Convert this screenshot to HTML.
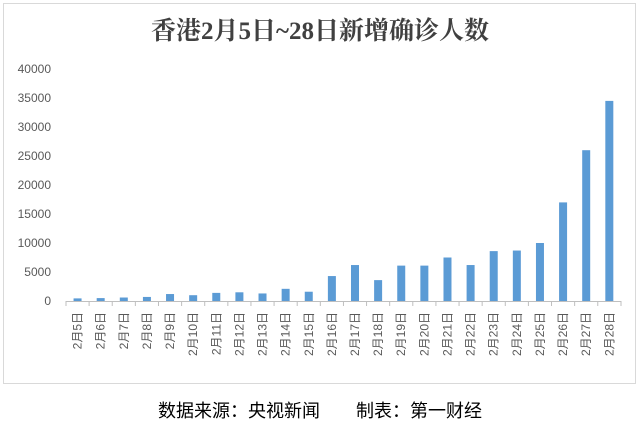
<html><head><style>body{margin:0;background:#fff}</style></head><body>
<svg width="640" height="427" xmlns="http://www.w3.org/2000/svg" font-family="Liberation Sans, Noto Sans CJK SC, sans-serif">
<rect x="0" y="0" width="640" height="427" fill="#fff"/>
<rect x="3.5" y="3.5" width="632" height="380" fill="#fff" stroke="#d9d9d9"/>
<text x="320" y="39" text-anchor="middle" font-size="25" font-weight="bold" fill="#404040" font-family="Liberation Serif, Noto Serif CJK SC, serif">香港2月5日~28日新增确诊人数</text>
<g font-size="12" fill="#595959" text-anchor="end">
<text x="51" y="305">0</text><text x="51" y="276">5000</text><text x="51" y="247">10000</text><text x="51" y="218">15000</text><text x="51" y="189">20000</text><text x="51" y="160">25000</text><text x="51" y="131">30000</text><text x="51" y="102">35000</text><text x="51" y="73">40000</text>
</g>
<line x1="66" y1="301.5" x2="621" y2="301.5" stroke="#bfbfbf"/>
<g fill="#5b9bd5">
<rect x="73.56" y="298.39" width="8" height="2.61"/>
<rect x="96.68" y="298.1" width="8" height="2.9"/>
<rect x="119.8" y="297.52" width="8" height="3.48"/>
<rect x="142.92" y="296.94" width="8" height="4.06"/>
<rect x="166.04" y="294.04" width="8" height="6.96"/>
<rect x="189.16" y="295.2" width="8" height="5.8"/>
<rect x="212.28" y="292.88" width="8" height="8.12"/>
<rect x="235.4" y="292.3" width="8" height="8.7"/>
<rect x="258.52" y="293.46" width="8" height="7.54"/>
<rect x="281.64" y="288.82" width="8" height="12.18"/>
<rect x="304.76" y="291.72" width="8" height="9.28"/>
<rect x="327.88" y="276.06" width="8" height="24.94"/>
<rect x="351" y="265.04" width="8" height="35.96"/>
<rect x="374.12" y="280.12" width="8" height="20.88"/>
<rect x="397.24" y="265.62" width="8" height="35.38"/>
<rect x="420.36" y="265.62" width="8" height="35.38"/>
<rect x="443.48" y="257.5" width="8" height="43.5"/>
<rect x="466.6" y="265.04" width="8" height="35.96"/>
<rect x="489.72" y="251.12" width="8" height="49.88"/>
<rect x="512.84" y="250.54" width="8" height="50.46"/>
<rect x="535.96" y="243" width="8" height="58"/>
<rect x="559.08" y="202.4" width="8" height="98.6"/>
<rect x="582.2" y="150.2" width="8" height="150.8"/>
<rect x="605.32" y="100.9" width="8" height="200.1"/>
</g>
<g stroke="#bfbfbf">
<line x1="66" y1="301" x2="66" y2="306"/><line x1="89.12" y1="301" x2="89.12" y2="306"/><line x1="112.24" y1="301" x2="112.24" y2="306"/><line x1="135.36" y1="301" x2="135.36" y2="306"/><line x1="158.48" y1="301" x2="158.48" y2="306"/><line x1="181.6" y1="301" x2="181.6" y2="306"/><line x1="204.72" y1="301" x2="204.72" y2="306"/><line x1="227.84" y1="301" x2="227.84" y2="306"/><line x1="250.96" y1="301" x2="250.96" y2="306"/><line x1="274.08" y1="301" x2="274.08" y2="306"/><line x1="297.2" y1="301" x2="297.2" y2="306"/><line x1="320.32" y1="301" x2="320.32" y2="306"/><line x1="343.44" y1="301" x2="343.44" y2="306"/><line x1="366.56" y1="301" x2="366.56" y2="306"/><line x1="389.68" y1="301" x2="389.68" y2="306"/><line x1="412.8" y1="301" x2="412.8" y2="306"/><line x1="435.92" y1="301" x2="435.92" y2="306"/><line x1="459.04" y1="301" x2="459.04" y2="306"/><line x1="482.16" y1="301" x2="482.16" y2="306"/><line x1="505.28" y1="301" x2="505.28" y2="306"/><line x1="528.4" y1="301" x2="528.4" y2="306"/><line x1="551.52" y1="301" x2="551.52" y2="306"/><line x1="574.64" y1="301" x2="574.64" y2="306"/><line x1="597.76" y1="301" x2="597.76" y2="306"/><line x1="621" y1="301" x2="621" y2="306"/>
</g>
<g font-size="12" fill="#595959" text-anchor="end">
<text transform="translate(81.56,312) rotate(-90)">2月5日</text>
<text transform="translate(104.68,312) rotate(-90)">2月6日</text>
<text transform="translate(127.8,312) rotate(-90)">2月7日</text>
<text transform="translate(150.92,312) rotate(-90)">2月8日</text>
<text transform="translate(174.04,312) rotate(-90)">2月9日</text>
<text transform="translate(197.16,312) rotate(-90)">2月10日</text>
<text transform="translate(220.28,312) rotate(-90)">2月11日</text>
<text transform="translate(243.4,312) rotate(-90)">2月12日</text>
<text transform="translate(266.52,312) rotate(-90)">2月13日</text>
<text transform="translate(289.64,312) rotate(-90)">2月14日</text>
<text transform="translate(312.76,312) rotate(-90)">2月15日</text>
<text transform="translate(335.88,312) rotate(-90)">2月16日</text>
<text transform="translate(359,312) rotate(-90)">2月17日</text>
<text transform="translate(382.12,312) rotate(-90)">2月18日</text>
<text transform="translate(405.24,312) rotate(-90)">2月19日</text>
<text transform="translate(428.36,312) rotate(-90)">2月20日</text>
<text transform="translate(451.48,312) rotate(-90)">2月21日</text>
<text transform="translate(474.6,312) rotate(-90)">2月22日</text>
<text transform="translate(497.72,312) rotate(-90)">2月23日</text>
<text transform="translate(520.84,312) rotate(-90)">2月24日</text>
<text transform="translate(543.96,312) rotate(-90)">2月25日</text>
<text transform="translate(567.08,312) rotate(-90)">2月26日</text>
<text transform="translate(590.2,312) rotate(-90)">2月27日</text>
<text transform="translate(613.32,312) rotate(-90)">2月28日</text>
</g>
<text x="320" y="417" text-anchor="middle" font-size="18" fill="#000">数据来源：央视新闻　　制表：第一财经</text>
</svg></body></html>
